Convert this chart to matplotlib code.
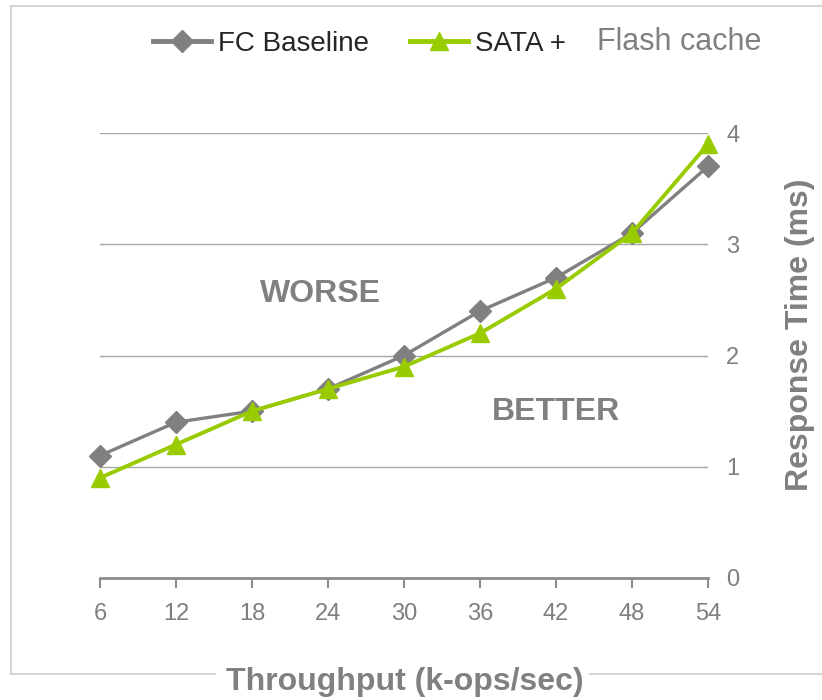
import matplotlib
matplotlib.use("Agg")
import matplotlib.pyplot as plt
from matplotlib.lines import Line2D

plt.rcParams['font.family'] = ['Liberation Sans', 'DejaVu Sans']

throughput = [6, 12, 18, 24, 30, 36, 42, 48, 54]
fc_baseline = [1.1, 1.4, 1.5, 1.7, 2.0, 2.4, 2.7, 3.1, 3.7]
sata_flash = [0.9, 1.2, 1.5, 1.7, 1.9, 2.2, 2.6, 3.1, 3.9]
y_ticks = [0, 1, 2, 3, 4]

GRAY = '#808080'
GREEN = '#99CC00'
TEXT_GRAY = '#7f7f7f'

fig = plt.figure(figsize=(8.22, 7.0), dpi=100)
ax = fig.add_axes([100 / 822, 1 - 578 / 700, 608 / 822, 445 / 700])

ax.plot(throughput, fc_baseline, color=GRAY, lw=2.4, marker='D', markersize=11,
        markeredgecolor=GRAY, markerfacecolor=GRAY, clip_on=False, zorder=3,
        label='FC Baseline')
ax.plot(throughput, sata_flash, color=GREEN, lw=2.8, marker='^', markersize=13,
        markeredgecolor=GREEN, markerfacecolor=GREEN, clip_on=False, zorder=4,
        label='SATA +')

ax.set_xlim(6, 54)
ax.set_ylim(0, 4)
ax.set_xticks(throughput)
ax.set_xticklabels([str(t) for t in throughput])
ax.set_yticks(y_ticks)

# horizontal gridlines, no vertical ones
for y in y_ticks[1:]:
    ax.axhline(y, color='#a6a6a6', lw=1.0, zorder=1)

for side in ['top', 'left', 'right']:
    ax.spines[side].set_visible(False)
ax.spines['bottom'].set_color('#8c8c8c')
ax.spines['bottom'].set_linewidth(2.0)

ax.yaxis.tick_right()
ax.tick_params(axis='y', length=0, pad=13, labelsize=17, labelcolor=TEXT_GRAY)
ax.tick_params(axis='x', length=7, width=1.5, color='#8c8c8c', pad=11,
               labelsize=17, labelcolor=TEXT_GRAY)

ax.yaxis.set_label_position('right')
ax.set_ylabel('Response Time (ms)', fontsize=23, fontweight='bold', color=GRAY)
ax.yaxis.set_label_coords((785 - 100) / 608, (578 - 335) / 445)

ax.text(23.4, 2.55, 'WORSE', fontsize=23, fontweight='bold', color=GRAY,
        ha='center', va='center')
ax.text(42.0, 1.49, 'BETTER', fontsize=23, fontweight='bold', color=GRAY,
        ha='center', va='center')

fig.text(405 / 822, 1 - 682 / 700, 'Throughput (k-ops/sec)', fontsize=23,
         fontweight='bold', color=GRAY, ha='center', va='center')

# outer frame with a gap around the x label
frame_kw = dict(color='#d4d4d4', lw=1.5, transform=fig.transFigure)
fx0, fy0, fy1 = 11 / 822, 1 - 674 / 700, 1 - 6 / 700
fig.add_artist(Line2D([fx0, 1.0], [fy1, fy1], **frame_kw))
fig.add_artist(Line2D([fx0, fx0], [fy0, fy1], **frame_kw))
fig.add_artist(Line2D([fx0, 215 / 822], [fy0, fy0], **frame_kw))
fig.add_artist(Line2D([590 / 822, 1.0], [fy0, fy0], **frame_kw))

leg = fig.legend(loc='center left', bbox_to_anchor=(153 / 822, 1 - 44 / 700),
                 ncol=2, frameon=False, fontsize=20, handlelength=2.1,
                 handletextpad=0.25, columnspacing=1.45, borderaxespad=0,
                 borderpad=0)
for t in leg.get_texts():
    t.set_color('#262626')
for h in leg.legend_handles:
    h.set_linewidth(3.5)

fig.text(597 / 822, 1 - 42 / 700, 'Flash cache', fontsize=22, color=GRAY,
         ha='left', va='center')

fig.savefig('out.png', dpi=100)
